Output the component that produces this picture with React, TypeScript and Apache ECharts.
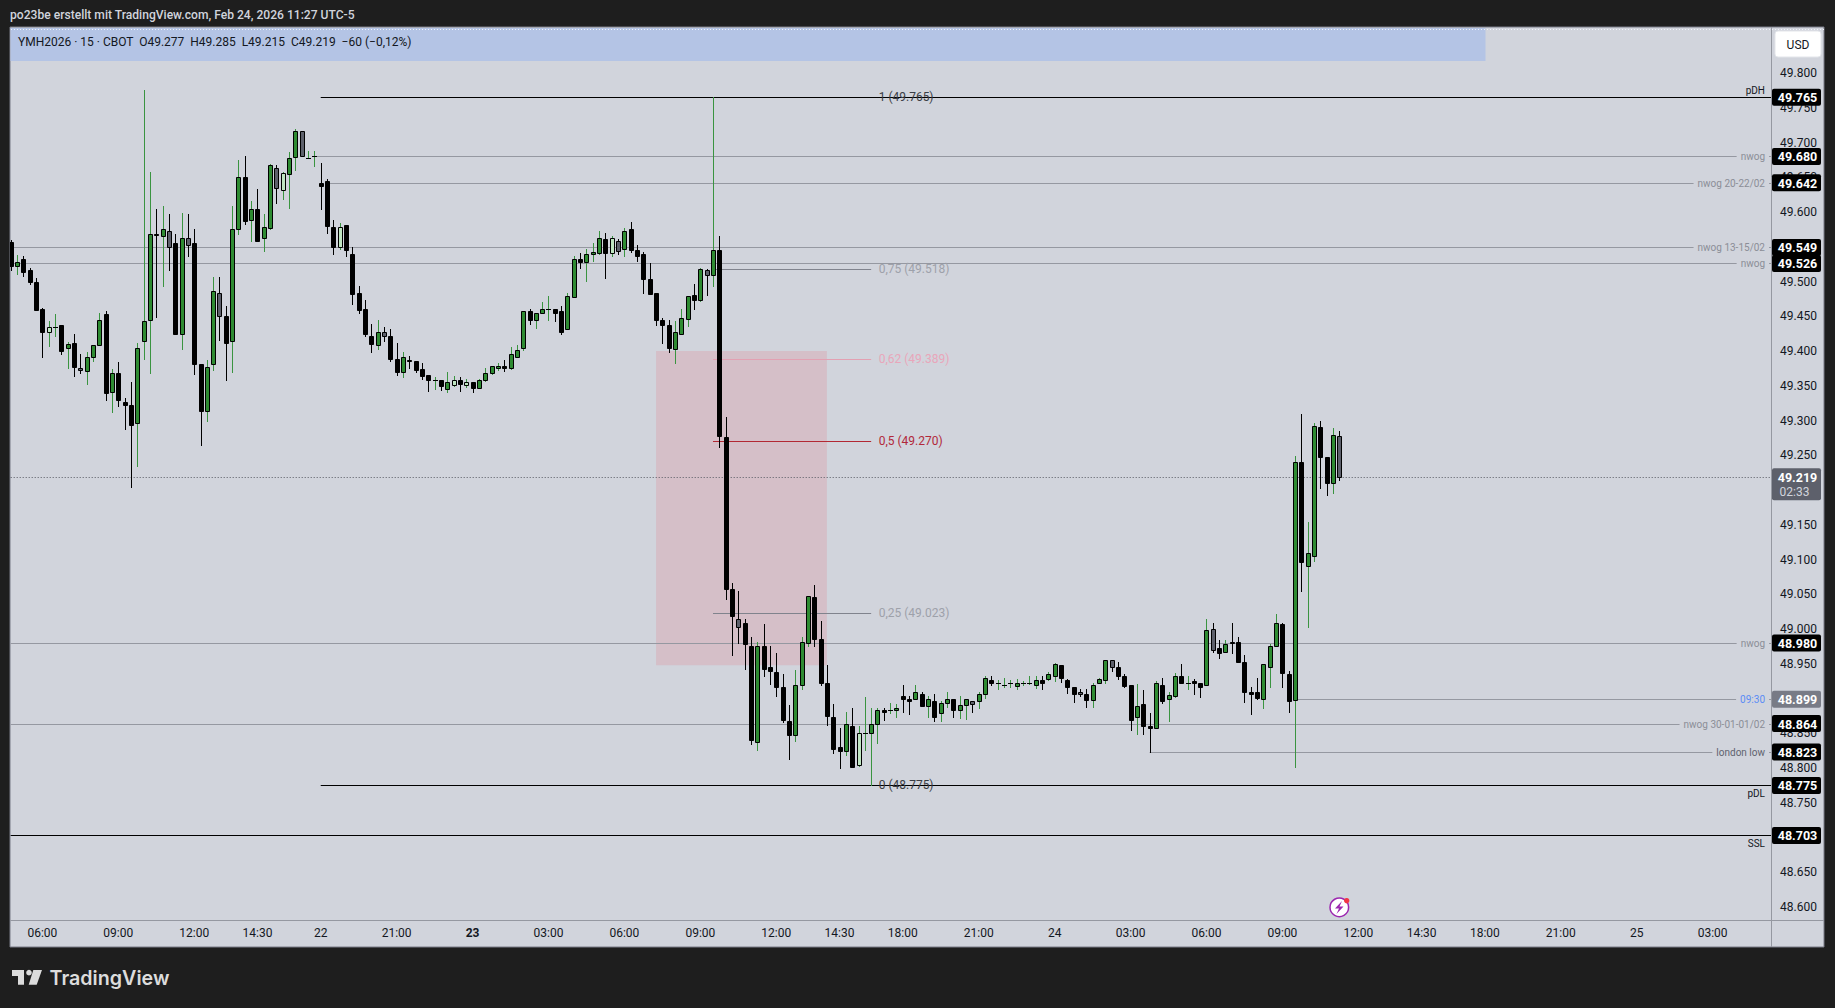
import React, { useEffect, useRef } from "react";
import * as echarts from "echarts";

// [open, close, low, high]
const candlesFeb20 = [
  [49.557,49.523,49.516,49.560],[49.523,49.528,49.511,49.538],[49.532,49.513,49.508,49.537],[49.516,49.500,49.496,49.519],
  [49.500,49.459,49.459,49.505],[49.460,49.428,49.392,49.462],[49.427,49.434,49.407,49.443],[49.434,49.434,49.421,49.453],
  [49.438,49.400,49.395,49.438],[49.405,49.410,49.375,49.413],[49.411,49.377,49.364,49.424],[49.376,49.372,49.369,49.396],
  [49.371,49.392,49.352,49.398],[49.392,49.408,49.386,49.408],[49.408,49.445,49.408,49.454],[49.453,49.339,49.329,49.457],
  [49.341,49.369,49.312,49.374],[49.369,49.330,49.321,49.384],[49.326,49.323,49.288,49.332],[49.322,49.294,49.205,49.355],
  [49.296,49.405,49.235,49.411],[49.415,49.443,49.389,49.775],[49.444,49.568,49.369,49.657],[49.568,49.567,49.449,49.605],
  [49.566,49.575,49.494,49.609],[49.572,49.549,49.516,49.597],[49.556,49.424,49.424,49.568],[49.424,49.562,49.403,49.598],
  [49.562,49.553,49.537,49.597],[49.555,49.382,49.367,49.575],[49.382,49.313,49.265,49.382],[49.314,49.377,49.300,49.387],
  [49.382,49.487,49.373,49.506],[49.484,49.450,49.416,49.506],[49.450,49.412,49.359,49.465],[49.415,49.575,49.370,49.609],
  [49.575,49.651,49.569,49.675],[49.650,49.587,49.583,49.680],[49.588,49.605,49.559,49.616],[49.605,49.559,49.559,49.633],
  [49.562,49.578,49.544,49.597],[49.577,49.667,49.576,49.669],[49.664,49.634,49.613,49.667],[49.631,49.656,49.619,49.657],
  [49.654,49.677,49.606,49.686],[49.679,49.716,49.660,49.719],[49.716,49.680,49.680,49.716],[49.677,49.677,49.677,49.688],
  [49.680,49.680,49.666,49.688],
];
const candlesFeb22 = [
  [49.642,49.638,49.604,49.670],[49.644,49.580,49.570,49.647],[49.578,49.549,49.539,49.588],[49.550,49.578,49.547,49.584],
  [49.581,49.546,49.536,49.581],[49.540,49.482,49.468,49.550],[49.483,49.459,49.455,49.494],[49.460,49.425,49.421,49.473],
  [49.422,49.410,49.399,49.439],[49.408,49.428,49.403,49.445],[49.427,49.421,49.415,49.434],[49.422,49.389,49.386,49.431],
  [49.389,49.370,49.365,49.411],[49.370,49.392,49.363,49.398],[49.387,49.386,49.375,49.393],[49.385,49.373,49.370,49.385],
  [49.374,49.364,49.360,49.383],[49.365,49.359,49.342,49.365],[49.359,49.359,49.345,49.363],[49.359,49.349,49.344,49.359],
  [49.346,49.356,49.341,49.370],[49.351,49.358,49.349,49.364],[49.358,49.353,49.342,49.363],[49.351,49.356,49.348,49.360],
];
const candlesFeb23 = [
  [49.356,49.347,49.341,49.356],[49.347,49.358,49.347,49.360],[49.359,49.369,49.357,49.375],[49.368,49.379,49.367,49.379],
  [49.376,49.379,49.373,49.383],[49.379,49.376,49.371,49.387],[49.376,49.395,49.374,49.406],[49.392,49.402,49.392,49.409],
  [49.404,49.457,49.401,49.457],[49.458,49.445,49.439,49.460],[49.445,49.454,49.433,49.454],[49.454,49.460,49.454,49.470],
  [49.460,49.460,49.445,49.479],[49.461,49.455,49.443,49.461],[49.457,49.428,49.425,49.465],[49.431,49.479,49.431,49.483],
  [49.478,49.532,49.478,49.537],[49.533,49.528,49.519,49.541],[49.528,49.539,49.501,49.547],[49.539,49.542,49.530,49.555],
  [49.541,49.562,49.540,49.572],[49.561,49.541,49.505,49.570],[49.541,49.562,49.537,49.565],[49.559,49.544,49.540,49.561],
  [49.547,49.572,49.537,49.577],[49.575,49.545,49.542,49.586],[49.546,49.537,49.529,49.552],[49.539,49.504,49.484,49.542],
  [49.504,49.482,49.482,49.527],[49.483,49.444,49.437,49.483],[49.444,49.438,49.411,49.447],[49.438,49.405,49.399,49.444],
  [49.403,49.428,49.383,49.443],[49.424,49.447,49.424,49.460],[49.446,49.479,49.436,49.479],[49.480,49.474,49.460,49.497],
  [49.473,49.518,49.472,49.519],[49.516,49.510,49.481,49.518],[49.510,49.546,49.494,49.765],[49.546,49.277,49.262,49.565],
  [49.276,49.057,49.043,49.305],[49.057,49.018,48.963,49.066],[49.014,49.003,48.980,49.054],[49.008,48.979,48.942,49.015],
  [48.976,48.841,48.835,48.989],[48.838,48.975,48.826,48.981],[48.975,48.943,48.933,49.007],[48.946,48.939,48.921,48.975],
  [48.938,48.916,48.904,48.965],[48.916,48.869,48.866,48.935],[48.867,48.848,48.813,48.891],[48.848,48.920,48.839,48.941],
  [48.920,48.981,48.914,48.989],[48.980,49.047,48.975,49.048],[49.046,48.985,48.976,49.063],[48.985,48.923,48.920,49.012],
  [48.923,48.875,48.862,48.948],[48.874,48.828,48.822,48.892],[48.830,48.825,48.800,48.858],[48.825,48.864,48.819,48.881],
  [48.861,48.802,48.802,48.887],[48.805,48.850,48.803,48.861],[48.851,48.851,48.826,48.902],[48.851,48.863,48.775,48.886],
  [48.864,48.883,48.836,48.887],[48.883,48.880,48.869,48.886],[48.884,48.884,48.879,48.893],[48.884,48.886,48.874,48.892],
  [48.903,48.900,48.881,48.920],[48.900,48.897,48.878,48.903],[48.899,48.909,48.899,48.920],[48.906,48.889,48.889,48.909],
  [48.889,48.899,48.874,48.903],[48.897,48.874,48.868,48.907],[48.879,48.894,48.868,48.897],[48.893,48.900,48.888,48.910],
  [48.900,48.884,48.874,48.900],[48.884,48.890,48.872,48.903],[48.890,48.899,48.871,48.900],[48.896,48.892,48.880,48.896],
  [48.896,48.907,48.887,48.910],[48.906,48.929,48.901,48.932],[48.926,48.923,48.919,48.932],[48.922,48.922,48.914,48.927],
  [48.920,48.920,48.916,48.930],[48.922,48.922,48.917,48.927],[48.918,48.922,48.914,48.928],[48.922,48.922,48.919,48.925],
  [48.922,48.922,48.921,48.932],[48.920,48.926,48.915,48.933],[48.926,48.923,48.914,48.933],[48.928,48.935,48.926,48.938],
];
const candlesFeb24 = [
  [48.933,48.949,48.925,48.951],[48.948,48.930,48.924,48.948],[48.926,48.916,48.908,48.928],[48.916,48.907,48.895,48.916],
  [48.910,48.906,48.903,48.913],[48.906,48.898,48.888,48.914],[48.898,48.920,48.888,48.923],[48.922,48.928,48.922,48.930],
  [48.926,48.956,48.923,48.956],[48.956,48.946,48.939,48.956],[48.946,48.933,48.928,48.953],[48.932,48.918,48.916,48.935],
  [48.920,48.869,48.855,48.920],[48.873,48.889,48.849,48.921],[48.892,48.861,48.849,48.912],[48.861,48.857,48.823,48.879],
  [48.857,48.923,48.857,48.925],[48.920,48.897,48.893,48.930],[48.900,48.905,48.868,48.910],[48.904,48.933,48.902,48.936],
  [48.933,48.923,48.923,48.949],[48.922,48.922,48.913,48.932],[48.925,48.922,48.906,48.928],[48.923,48.916,48.902,48.923],
  [48.920,48.998,48.920,49.015],[49.000,48.970,48.967,49.008],[48.972,48.966,48.959,48.984],[48.967,48.979,48.967,48.984],
  [48.982,48.980,48.966,49.008],[48.982,48.952,48.952,48.988],[48.952,48.910,48.895,48.962],[48.910,48.907,48.877,48.916],
  [48.910,48.901,48.899,48.929],[48.899,48.949,48.887,48.949],[48.946,48.975,48.916,48.978],[48.975,49.008,48.975,49.022],
  [49.007,48.936,48.916,49.008],[48.935,48.897,48.880,48.939],[48.898,49.241,48.802,49.249],[49.241,49.097,49.055,49.310],
  [49.090,49.109,49.003,49.154],[49.105,49.292,49.098,49.297],[49.290,49.247,49.203,49.299],[49.247,49.210,49.193,49.247],
  [49.210,49.279,49.196,49.289],[49.277,49.219,49.215,49.285],
];
const candles = [...candlesFeb20, ...candlesFeb22, ...candlesFeb23, ...candlesFeb24];

const grayCandles = [11, 25, 28, 33, 42, 46, 59, 96, 110, 115, 152, 169, 174, 190, 210];
const paleCandles = [6, 43, 52, 70, 72, 95, 134];

const slotCount = 279;
const timeIndexes = [5, 17, 29, 39, 49, 61, 73, 85, 97, 109, 121, 131, 141, 153, 165, 177, 189, 201, 213, 223, 233, 245, 257, 269];
const timeLabels = ["06:00", "09:00", "12:00", "14:30", "22", "21:00", "23", "03:00", "06:00", "09:00", "12:00", "14:30", "18:00", "21:00", "24", "03:00", "06:00", "09:00", "12:00", "14:30", "18:00", "21:00", "25", "03:00"];
const boldTimeLabels = ["23"];

const priceTicks = [48.6, 48.65, 48.7, 48.75, 48.8, 48.85, 48.9, 48.95, 49.0, 49.05, 49.1, 49.15, 49.2, 49.25, 49.3, 49.35, 49.4, 49.45, 49.5, 49.55, 49.6, 49.65, 49.7, 49.75, 49.8];

const levelPrices = [49.765, 49.68, 49.642, 49.549, 49.526, 48.98, 48.899, 48.864, 48.823, 48.775, 48.703];
const levelTexts = ["pDH", "nwog", "nwog 20-22/02", "nwog 13-15/02", "nwog", "nwog", "09:30", "nwog 30-01-01/02", "london low", "pDL", "SSL"];
const levelStarts = [49, 48, 50, 0, 0, 0, 203, 0, 180, 49, 0];

const fibPrices = [49.765, 49.518, 49.389, 49.27, 49.023, 48.775];
const fibTexts = ["1 (49.765)", "0,75 (49.518)", "0,62 (49.389)", "0,5 (49.270)", "0,25 (49.023)", "0 (48.775)"];
const fibStart = 111;
const fibEnd = 136;

const zoneTop = 49.4;
const zoneBottom = 48.948;
const zoneStart = 102;
const zoneEnd = 129;

const lastPrice = 49.219;
const lastCountdown = "02:33";

const headerText = "po23be erstellt mit TradingView.com, Feb 24, 2026 11:27 UTC-5";
const legendText = "YMH2026 · 15 · CBOT  O49.277  H49.285  L49.215  C49.219  −60 (−0,12%)";

// styles
const FONT = "Roboto, 'Noto Sans', sans-serif";
const PANEL = "#d1d4dc";
const DARK = "#1e1e1e";
const INK = "#131722";
const LINE_GRAY = "#9598a1";
const GREEN = "#2e8b32";
const GREEN_WICK = "#3a9440";
const PALE = "#bfe5c1";
const GRAY = "#5d606b";
const FIB_COLORS = ["#3a3d45", "#9ea1aa", "#e9a6ba", "#b2283a", "#9ea1aa", "#3a3d45"];
const FIB_LINES = [null, "#80838d", "#e3a0b2", "#b22833", "#80838d", null];
const LEVEL_LINES = ["#000", LINE_GRAY, LINE_GRAY, LINE_GRAY, LINE_GRAY, LINE_GRAY, LINE_GRAY, LINE_GRAY, LINE_GRAY, "#000", "#000"];
const LEVEL_TEXT = ["#131722", "#8b8e97", "#8b8e97", "#8b8e97", "#8b8e97", "#8b8e97", "#5b8cf5", "#8b8e97", "#60636e", "#131722", "#131722"];
const LEVEL_OFFSET = [-7, 0, 0, 0, 0, 0, 0, 0, 0, 7.5, 7.5];
const TAG_FILL = ["#000", "#000", "#000", "#000", "#000", "#000", "#787b86", "#000", "#000", "#000", "#000"];
const SCALE_X = 1771; // left edge of the price scale
const TAG_X = 1772;

const crisp = (v: number) => Math.round(v) + 0.5;

function renderCandle(params: any, api: any) {
  const i = api.value(0);
  const o = api.value(1);
  const c = api.value(2);
  const l = api.value(3);
  const h = api.value(4);
  const up = c >= o;
  const isGray = grayCandles.includes(i);
  const isPale = paleCandles.includes(i);
  const cx = Math.round(api.coord([i, o])[0]);
  const yTop = Math.round(api.coord([i, Math.max(o, c)])[1]);
  const yBot = Math.round(api.coord([i, Math.min(o, c)])[1]);
  const yHigh = Math.round(api.coord([i, h])[1]);
  const yLow = Math.round(api.coord([i, l])[1]);
  const wick = up ? GREEN_WICK : "#000";
  const fill = isGray ? GRAY : isPale ? PALE : up ? GREEN : "#000";
  const children: any[] = [
    { type: "line", shape: { x1: cx + 0.5, y1: yHigh, x2: cx + 0.5, y2: yLow + 1 }, style: { stroke: wick, lineWidth: 1 } },
  ];
  if (yBot <= yTop) {
    children.push({ type: "line", shape: { x1: cx - 2, y1: yTop + 0.5, x2: cx + 3, y2: yTop + 0.5 }, style: { stroke: "#000", lineWidth: 1 } });
  } else {
    children.push({ type: "rect", shape: { x: cx - 1.5, y: yTop + 0.5, width: 4, height: yBot - yTop }, style: { fill, stroke: "#000", lineWidth: 1 } });
  }
  return { type: "group", children };
}

function renderZone(params: any, api: any) {
  const a = api.coord([zoneStart, zoneTop]);
  const b = api.coord([zoneEnd, zoneBottom]);
  return { type: "rect", shape: { x: a[0], y: a[1], width: b[0] - a[0], height: b[1] - a[1] }, style: { fill: "rgba(242,54,69,0.13)" } };
}

function renderLevel(params: any, api: any) {
  const k = params.dataIndex;
  const y = crisp(api.coord([0, levelPrices[k]])[1]);
  const x0 = api.coord([levelStarts[k], levelPrices[k]])[0];
  const major = LEVEL_OFFSET[k] !== 0;
  return {
    type: "group",
    children: [
      { type: "line", shape: { x1: x0, y1: y, x2: SCALE_X, y2: y }, style: { stroke: LEVEL_LINES[k], lineWidth: 1 } },
      {
        type: "text",
        style: {
          x: major ? SCALE_X - 6 : SCALE_X - 2, y: y + LEVEL_OFFSET[k], text: levelTexts[k], fill: LEVEL_TEXT[k],
          font: `10px ${FONT}`, align: "right", verticalAlign: "middle",
          ...(major ? {} : { backgroundColor: PANEL, padding: [1, 4, 1, 4] }),
        },
      },
    ],
  };
}

function renderFib(params: any, api: any) {
  const k = params.dataIndex;
  const y = crisp(api.coord([0, fibPrices[k]])[1]);
  const x0 = api.coord([fibStart, fibPrices[k]])[0];
  const x1 = api.coord([fibEnd, fibPrices[k]])[0];
  const children: any[] = [];
  if (FIB_LINES[k]) children.push({ type: "line", shape: { x1: x0, y1: y, x2: x1, y2: y }, style: { stroke: FIB_LINES[k], lineWidth: 1 } });
  children.push({ type: "text", style: { x: x1 + 7.5, y: y - 1, text: fibTexts[k], fill: FIB_COLORS[k], font: `12px ${FONT}`, align: "left", verticalAlign: "middle" } });
  return { type: "group", children };
}

function renderTag(params: any, api: any) {
  const k = params.dataIndex;
  const y = api.coord([0, levelPrices[k]])[1];
  return {
    type: "group",
    children: [
      { type: "rect", shape: { x: TAG_X, y: y - 8.5, width: 49, height: 17, r: 2 }, style: { fill: TAG_FILL[k] } },
      { type: "text", style: { x: TAG_X + 25.5, y: y + 0.5, text: levelPrices[k].toFixed(3), fill: "#fff", font: `bold 12.5px ${FONT}`, align: "center", verticalAlign: "middle" } },
    ],
  };
}

function renderLastLine(params: any, api: any) {
  const y = crisp(api.coord([0, lastPrice])[1]);
  const x0 = api.coord([0, lastPrice])[0];
  return { type: "line", shape: { x1: x0, y1: y, x2: SCALE_X, y2: y }, style: { stroke: "#555860", lineWidth: 1, lineDash: [1, 2] } };
}

function renderLastTag(params: any, api: any) {
  const y = api.coord([0, lastPrice])[1];
  return {
    type: "group",
    children: [
      { type: "rect", shape: { x: TAG_X, y: y - 8.5, width: 49, height: 32, r: 2 }, style: { fill: "#5d606b" } },
      { type: "text", style: { x: TAG_X + 25.5, y: y + 0.5, text: lastPrice.toFixed(3), fill: "#fff", font: `bold 12.5px ${FONT}`, align: "center", verticalAlign: "middle" } },
      { type: "text", style: { x: TAG_X + 7.5, y: y + 15.5, text: lastCountdown, fill: "#d1d4dc", font: `12px ${FONT}`, align: "left", verticalAlign: "middle" } },
    ],
  };
}

export default function App() {
  const ref = useRef<HTMLDivElement>(null);
  useEffect(() => {
    const chart = echarts.init(ref.current!, undefined, { renderer: "svg" });
    const categories = Array.from({ length: slotCount }, (_, i) => {
      const at = timeIndexes.indexOf(i);
      return at >= 0 ? timeLabels[at] : "";
    });
    const single = [[0, 0]];
    const custom = (renderItem: any, z: number, data: any[], clip = false) => ({
      type: "custom", renderItem, z, data, clip, silent: true, encode: { x: 0, y: 1 }, animation: false,
    });
    chart.setOption({
      animation: false,
      backgroundColor: DARK,
      grid: { left: 10.7, right: 65.4, top: 27, bottom: 88, containLabel: false },
      xAxis: {
        type: "category",
        data: categories,
        boundaryGap: false,
        axisLine: { show: true, lineStyle: { color: LINE_GRAY, width: 1 } },
        axisTick: { show: false },
        splitLine: { show: false },
        axisLabel: {
          interval: (_: number, v: string) => v !== "",
          color: INK,
          fontFamily: FONT,
          fontSize: 12,
          margin: 7,
          hideOverlap: false,
          formatter: (v: string) => (boldTimeLabels.includes(v) ? `{b|${v}}` : v),
          rich: { b: { fontWeight: "bold", fontFamily: FONT, fontSize: 12, color: INK } },
        },
      },
      yAxis: {
        type: "value",
        position: "right",
        min: 48.5813,
        max: 49.8662,
        scale: true,
        axisLine: { show: false },
        axisTick: { show: false, customValues: priceTicks },
        splitLine: { show: false },
        axisLabel: {
          customValues: priceTicks,
          color: INK,
          fontFamily: FONT,
          fontSize: 12,
          margin: 10.4,
          formatter: (v: number) => v.toFixed(3),
        },
      },
      graphic: [
        { type: "rect", z: -10, shape: { x: 10, y: 27, width: 1814, height: 920 }, style: { fill: PANEL, stroke: "#787b86", lineWidth: 1 } },
        { type: "rect", z: -9, shape: { x: 10.5, y: 28, width: 1475, height: 33 }, style: { fill: "#b4c4e5" } },
        { type: "line", z: -8, shape: { x1: 11, y1: 29.5, x2: 1824, y2: 29.5 }, style: { stroke: "#f0f3fa", lineWidth: 1, lineDash: [1, 2] } },
        { type: "line", z: -8, shape: { x1: SCALE_X + 0.5, y1: 27, x2: SCALE_X + 0.5, y2: 947 }, style: { stroke: LINE_GRAY, lineWidth: 1 } },
        { type: "line", z: -8, shape: { x1: 1769, y1: 920.5, x2: 1824, y2: 920.5 }, style: { stroke: LINE_GRAY, lineWidth: 1 } },
        { type: "text", z: 5, style: { x: 10, y: 15, text: headerText, fill: "#d1d4dc", font: `500 12.1px ${FONT}`, verticalAlign: "middle" } },
        { type: "text", z: 5, style: { x: 18, y: 41.5, text: legendText, fill: INK, font: `12px ${FONT}`, verticalAlign: "middle" } },
        { type: "rect", z: 5, shape: { x: 1775, y: 31, width: 46, height: 26, r: 3 }, style: { fill: "#fff", stroke: "#e3e5ea", lineWidth: 1 } },
        { type: "text", z: 6, style: { x: 1798, y: 44.5, text: "USD", fill: INK, font: `12px ${FONT}`, align: "center", verticalAlign: "middle" } },
        { type: "circle", z: 6, shape: { cx: 1339.3, cy: 907.3, r: 9.3 }, style: { fill: "#fff", stroke: "#9c27b0", lineWidth: 1.5 } },
        { type: "polygon", z: 7, shape: { points: [[1342, 901], [1335, 908.5], [1339, 908.5], [1336.5, 914], [1343.5, 906.5], [1339.5, 906.5]] }, style: { fill: "#9c27b0" } },
        { type: "circle", z: 8, shape: { cx: 1346.7, cy: 900.7, r: 2.7 }, style: { fill: "#f23645" } },
        { type: "polygon", z: 5, shape: { points: [[12, 970], [24, 970], [24, 984.7], [18, 984.7], [18, 976], [12, 976]] }, style: { fill: "#dcdcdc" } },
        { type: "circle", z: 5, shape: { cx: 29, cy: 972.7, r: 2.8 }, style: { fill: "#dcdcdc" } },
        { type: "polygon", z: 5, shape: { points: [[33.3, 970], [42, 970], [36.7, 984.7], [28.7, 984.7]] }, style: { fill: "#dcdcdc" } },
        { type: "text", z: 5, style: { x: 49.5, y: 978, text: "TradingView", fill: "#dcdcdc", font: `600 19.7px Inter, ${FONT}`, verticalAlign: "middle" } },
      ],
      series: [
        custom(renderZone, 1, single),
        custom(renderLastLine, 1, single),
        custom(renderLevel, 2, levelPrices.map((p, i) => [levelStarts[i], p])),
        custom(renderFib, 2, fibPrices.map((p) => [fibStart, p])),
        custom(renderCandle, 3, candles.map((c, i) => [i, c[0], c[1], c[2], c[3]]), true),
        custom(renderLastTag, 4, single),
        custom(renderTag, 5, levelPrices.map((p, i) => [levelStarts[i], p])),
      ],
    });
    return () => chart.dispose();
  }, []);
  return <div ref={ref} style={{ position: "absolute", left: 0, top: 0, width: 1835, height: 1008 }} />;
}
